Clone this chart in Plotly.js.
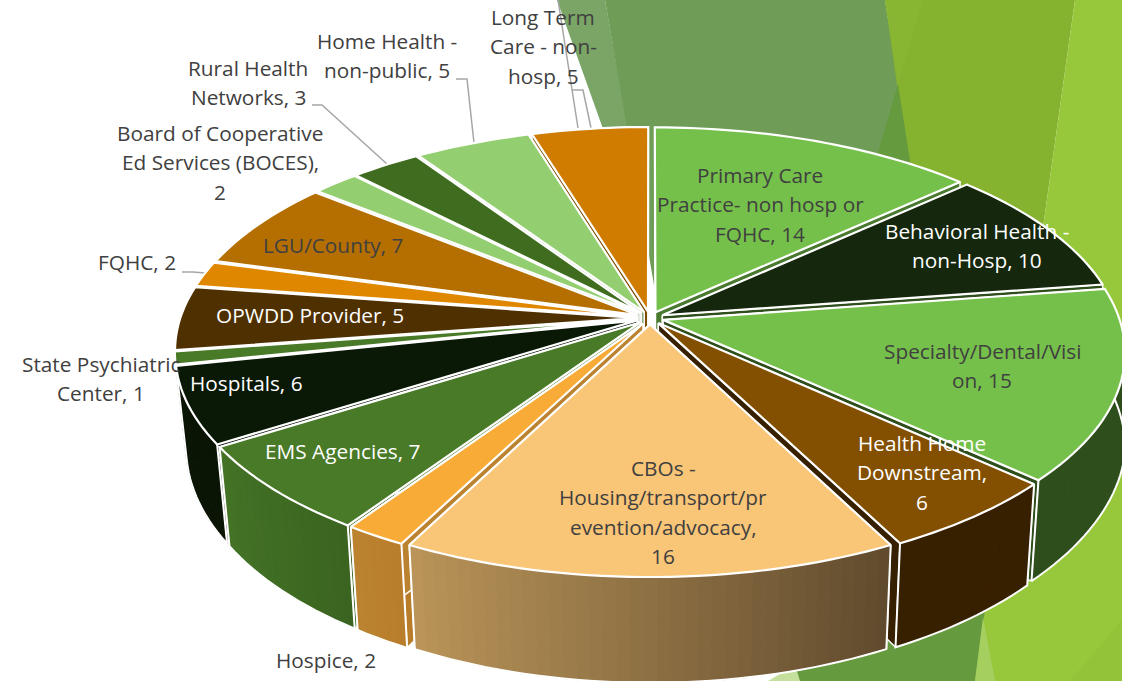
<!DOCTYPE html>
<html><head><meta charset="utf-8">
<script src="https://cdn.plot.ly/plotly-3.0.1.min.js"></script>
<style>html,body{margin:0;padding:0;background:#fff;overflow:hidden}</style>
</head><body><div id="chart" style="width:1122px;height:681px"></div>
<script>
// ---- data (clockwise from 12 o'clock) ----
const categories = ["Primary Care Practice- non hosp or FQHC","Behavioral Health - non-Hosp","Specialty/Dental/Vision","Health Home Downstream","CBOs - Housing/transport/prevention/advocacy","Hospice","EMS Agencies","Hospitals","State Psychiatric Center","OPWDD Provider","FQHC","LGU/County","Board of Cooperative Ed Services (BOCES)","Rural Health Networks","Home Health - non-public","Long Term Care - non-hosp"];
const values = [14,10,15,6,16,2,7,6,1,5,2,7,2,3,5,5];
const topColors = ["#75c04a","#15270c","#75c04a","#834f00","#f9c577","#f9ab38","#487a27","#0a1806","#487a27","#4f3000","#e08700","#b56f00","#93ce70","#3f6c1f","#93ce70","#cf7c00"];
const sideStart = ["#4a7a30","#2e4e1c","#2e4e1c","#372000","#5f4a2d","#b97d2a","#3a6320","#0a1505","#2e4e1c","#2a1a00","#8a5400","#704500","#5c8246","#284412","#5c8246","#804d00"];
const sideEnd   = ["#4a7a30","#2e4e1c","#2e4e1c","#372000","#bb9559","#bb822f","#447326","#0a1505","#2e4e1c","#2a1a00","#8a5400","#704500","#5c8246","#284412","#5c8246","#804d00"];
const labelLines = [
 ["Primary Care","Practice- non hosp or","FQHC, 14"],
 ["Behavioral Health -","non-Hosp, 10"],
 ["Specialty/Dental/Visi","on, 15"],
 ["Health Home","Downstream,","6"],
 ["CBOs -","Housing/transport/pr","evention/advocacy,","16"],
 ["Hospice, 2"],
 ["EMS Agencies, 7"],
 ["Hospitals, 6"],
 ["State Psychiatric","Center, 1"],
 ["OPWDD Provider, 5"],
 ["FQHC, 2"],
 ["LGU/County, 7"],
 ["Board of Cooperative","Ed Services (BOCES),","2"],
 ["Rural Health","Networks, 3"],
 ["Home Health -","non-public, 5"],
 ["Long Term","Care - non-","hosp, 5"]
];
const labelX = [760,977,982,922,663,326,342,246,101,310,137,333,220,248,387,543];
const labelY = [175,231,351,443,468,660,451,383,364,315,262,245,133,68,41,17];
const labelColor = ["#404040","#ffffff","#404040","#ffffff","#404040","#404040","#ffffff","#ffffff","#404040","#ffffff","#404040","#404040","#404040","#404040","#404040","#404040"];
const leaderX = [[312,322,387],[456,467,474],[572,583,591],[182,193,205],[558,578]];
const leaderY = [[105,105,164],[79,79,143],[90,90,128],[272,272,273],[0,128]];

// ---- projection of the tilted disc onto the axes ----
const CX=650, CY=318, R=456, S=213.5, K=0.1467, EXPLODE=0.03;
function project(u,v){const d=1-K*v;return [CX+R*u/d, CY+S*v/d];}
function lower(p){
  const f=p[0]>CX?0.982+0.018*Math.max(0,Math.min(1,(480-p[1])/120)):0.977;
  return [CX+(p[0]-CX)*f, p[1]+93+(p[1]-322)*0.05];
}
function hex(c){return [1,3,5].map(i=>parseInt(c.substr(i,2),16));}
function mix(a,b,t){const A=hex(a),B=hex(b);return 'rgb('+A.map((x,i)=>Math.round(x+(B[i]-x)*t)).join(',')+')';}

const total = values.reduce((a,b)=>a+b,0);
let run=0;
const slices = values.map((val,i)=>{
  const a0=run/total*2*Math.PI; run+=val; const a1=run/total*2*Math.PI;
  const mid=(a0+a1)/2, ou=Math.sin(mid)*EXPLODE, ov=-Math.cos(mid)*EXPLODE;
  const n=Math.max(3,Math.ceil((a1-a0)/(1.5*Math.PI/180))), rim=[];
  for(let k=0;k<=n;k++){const a=a0+(a1-a0)*k/n; rim.push(project(Math.sin(a)+ou,-Math.cos(a)+ov));}
  return {i,mid,rim,apex:project(ou,ov),depth:-Math.cos(mid)};
}).sort((a,b)=>a.depth-b.depth);

function poly(pts,fill,lineColor,w){
  const xs=pts.map(p=>p[0]).concat(pts[0][0]), ys=pts.map(p=>p[1]).concat(pts[0][1]);
  return {type:'scatter',mode:'lines',x:xs,y:ys,fill:'toself',fillcolor:fill,
    line:{color:lineColor,width:w,simplify:false},hoverinfo:'skip',showlegend:false};
}
function outline(pts,w){
  return {type:'scatter',mode:'lines',x:pts.map(p=>p[0]),y:pts.map(p=>p[1]),
    line:{color:'#ffffff',width:w,simplify:false},hoverinfo:'skip',showlegend:false};
}
const traces=[];
leaderX.forEach((xs,j)=>traces.push({type:'scatter',mode:'lines',x:xs,y:leaderY[j],line:{color:'#a6a6a6',width:1.5},hoverinfo:'skip',showlegend:false}));
slices.forEach(s=>{
  const a=s.apex, al=lower(a), r=s.rim, n=r.length-1, c0=sideStart[s.i], c1=sideEnd[s.i];
  // cut walls
  traces.push(poly([a,r[0],lower(r[0]),al],c0,'#ffffff',1.5));
  traces.push(poly([a,r[n],lower(r[n]),al],c1,'#ffffff',1.5));
  // rim face, as gradient strips (only faces turned to the viewer)
  if(s.depth>0.05){
    for(let k=0;k<n;k++){
      const col=mix(c0,c1,(k+0.5)/n);
      traces.push(poly([r[k],r[k+1],lower(r[k+1]),lower(r[k])],col,col,1));
    }
    traces.push(outline([r[0]].concat(r.map(lower)).concat([r[n]]),2));
  }
  // top face
  traces.push(poly([a].concat(r),topColors[s.i],'#ffffff',2.2));
});

const annotations=[];
labelLines.forEach((lines,i)=>lines.forEach((t,j)=>annotations.push({
  x:labelX[i],y:labelY[i]+j*29.3,text:t,showarrow:false,xanchor:'center',yanchor:'middle',
  font:{family:'"Open Sans",sans-serif',size:20.8,color:labelColor[i]}
})));

function bg(d,c){return {type:'path',path:d,fillcolor:c,line:{width:0},layer:'below'};}
const shapes=[
 bg('M557,0 L605,0 L630,140 L607,140 Z','#7aa566'),
 bg('M605,0 L885,0 L935,320 L660,320 Z','#6f9c57'),
 bg('M885,0 L1075,0 L1030,320 L930,320 Z','#85b22f'),
 bg('M885,0 L923,0 L898,84 Z','#88b633'),
 bg('M898,84 L870,180 L913,180 Z','#669a3e'),
 bg('M1075,0 L1122,0 L1122,681 L975,681 L985,400 L1030,320 Z','#97c83b'),
 bg('M798,681 L975,681 L985,610 L780,610 Z','#669a3e'),
 bg('M983,617 L975,681 L995,681 Z','#a5d060'),
 bg('M768,681 L800,681 L795,665 Z','#c5e09c'),
 bg('M1122,620 L1070,681 L1122,681 Z','#93c339')
];

Plotly.newPlot('chart',traces,{
  width:1122,height:681,margin:{l:0,r:0,t:0,b:0},
  paper_bgcolor:'#ffffff',plot_bgcolor:'rgba(0,0,0,0)',showlegend:false,
  xaxis:{range:[0,1122],visible:false,fixedrange:true},
  yaxis:{range:[681,0],visible:false,fixedrange:true},
  shapes,annotations
},{displayModeBar:false,staticPlot:true});
</script></body></html>
